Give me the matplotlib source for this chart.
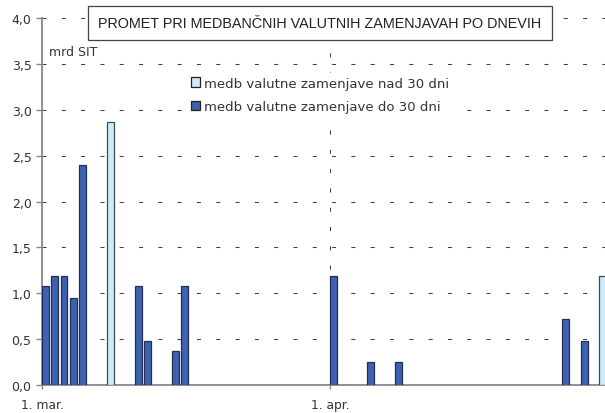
import matplotlib
matplotlib.use("Agg")
import matplotlib.pyplot as plt
from matplotlib.patches import Patch, Rectangle
import matplotlib.transforms as mtransforms

# dnevi od 1. marca (0 = 1. mar., 31 = 1. apr.)
dnevi_do30 = [0, 1, 2, 3, 4, 10, 11, 14, 15, 31, 35, 38, 56, 58]
promet_do30 = [1.08, 1.19, 1.19, 0.95, 2.40, 1.08, 0.48, 0.37, 1.08, 1.19, 0.25, 0.25, 0.72, 0.48]
dnevi_nad30 = [7, 60]
promet_nad30 = [2.87, 1.19]

oznake_dni = [0, 31]
oznake_txt = ["1. mar.", "1. apr."]
y_ticks = [0.0, 0.5, 1.0, 1.5, 2.0, 2.5, 3.0, 3.5, 4.0]

plt.rcParams["font.family"] = ["DejaVu Sans"]
plt.rcParams["lines.scale_dashes"] = False

temna = "#3c62b0"
svetla = "#cdecf7"
rob = "#22304f"
crtkano = (0, (2.9, 11.0))

fig = plt.figure(figsize=(6.05, 4.14), dpi=100)
ax = fig.add_axes([42 / 605, 28 / 414, 1 - 42 / 605, 366.7 / 414])

# stolpci
ax.bar(dnevi_do30, promet_do30, width=0.72, align="edge", color=temna,
       edgecolor=rob, linewidth=0.9, zorder=3)
ax.bar(dnevi_nad30, promet_nad30, width=0.72, align="edge", color=svetla,
       edgecolor="#3a4a5a", linewidth=0.9, zorder=3)

# mreza
for y in y_ticks[1:]:
    ax.axhline(y, color="#404040", lw=0.75, linestyle=crtkano, zorder=1)
ax.axvline(31, color="#404040", lw=0.75, linestyle=crtkano, zorder=1)

ax.set_xlim(0, 60.6)
ax.set_ylim(0, 4.0)
ax.set_yticks(y_ticks)
ax.set_yticklabels([f"{v:.1f}".replace(".", ",") for v in y_ticks], fontsize=9, color="#333333")
ax.set_xticks(oznake_dni)
ax.set_xticklabels(oznake_txt, fontsize=8.8, color="#333333")
premik = mtransforms.ScaledTranslation(4.5 / 100, 0, fig.dpi_scale_trans)
for lbl in ax.get_xticklabels():
    lbl.set_transform(lbl.get_transform() + premik)

for s in ["top", "right"]:
    ax.spines[s].set_visible(False)
for s in ["left", "bottom"]:
    ax.spines[s].set_color("#888888")
    ax.spines[s].set_linewidth(1.3)
ax.tick_params(axis="y", length=4.5, width=1, color="#888888", pad=3)
ax.tick_params(axis="x", length=3, width=1, color="#888888", pad=6.5)

fig.text(49 / 605, 1 - 52 / 414, "mrd SIT", fontsize=9,
         color="#333333", va="center", ha="left")

# legenda
rocke = [Patch(facecolor=svetla, edgecolor="#222222", linewidth=0.9),
         Patch(facecolor=temna, edgecolor="#222222", linewidth=0.9)]
leg = ax.legend(rocke, ["medb valutne zamenjave nad 30 dni", "medb valutne zamenjave do 30 dni"],
                loc="upper left", bbox_to_anchor=(180 / 605, 1 - 67 / 414),
                bbox_transform=fig.transFigure, frameon=True, fancybox=False,
                edgecolor="none", facecolor="white", framealpha=1,
                prop={"family": "DejaVu Sans", "size": 9.5}, handlelength=0.75,
                handleheight=0.75, handletextpad=0.3, labelspacing=0.8,
                borderpad=0.3)
for t in leg.get_texts():
    t.set_color("#333333")

# naslov v okvirju
okvir = Rectangle((88 / 605, 1 - 41 / 414), 464 / 605, 34 / 414, transform=fig.transFigure,
                  facecolor="white", edgecolor="#444444", linewidth=0.9, zorder=5)
fig.add_artist(okvir)
fig.text(320 / 605, 1 - 24 / 414, "PROMET PRI MEDBANČNIH VALUTNIH ZAMENJAVAH PO DNEVIH",
         ha="center", va="center", fontsize=10.4, color="#222222", zorder=6,
         family=["Liberation Sans", "DejaVu Sans"])

fig.savefig("out.png", dpi=100)
